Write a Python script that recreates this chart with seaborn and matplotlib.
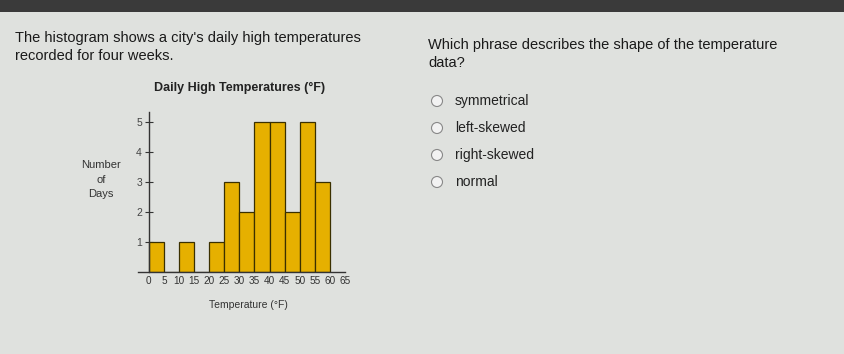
import matplotlib
matplotlib.use("Agg")
import matplotlib.pyplot as plt
import seaborn as sns
import numpy as np
from matplotlib.patches import Ellipse, Rectangle

sns.set_theme(style="white")
plt.rcParams['font.family'] = ['Liberation Sans', 'DejaVu Sans']

# Data
bin_edges = [0, 5, 10, 15, 20, 25, 30, 35, 40, 45, 50, 55, 60]
counts = [1, 0, 1, 0, 1, 3, 2, 5, 5, 2, 5, 3]
x_tick_labels = [0, 5, 10, 15, 20, 25, 30, 35, 40, 45, 50, 55, 60, 65]
y_tick_labels = [1, 2, 3, 4, 5]
options = ["symmetrical", "left-skewed", "right-skewed", "normal"]

bg = "#dfe1de"
W, H = 844, 354
fig = plt.figure(figsize=(W / 100, H / 100), dpi=100, facecolor=bg)

# top dark bar
fig.patches.append(Rectangle((0, 1 - 12 / H), 1, 12 / H, transform=fig.transFigure,
                             facecolor="#3a3a3a", edgecolor="none"))

def fx(px):
    return px / W

def fy(py):
    return 1 - py / H

ax = fig.add_axes([fx(138), fy(272), 207 / W, 160 / H])
ax.set_facecolor(bg)
centers = [(a + b) / 2 for a, b in zip(bin_edges[:-1], bin_edges[1:])]
sns.histplot(x=centers, weights=counts, bins=bin_edges, ax=ax,
             color="#e6b000", edgecolor="#3a3000", linewidth=0.9, alpha=1)
ax.set_xlim(-3.6, 65)
ax.set_ylim(0, 5.33)
for s in ["top", "right"]:
    ax.spines[s].set_visible(False)
ax.spines["left"].set_position(("data", 0))
ax.spines["left"].set_color("#333333")
ax.spines["bottom"].set_color("#333333")
ax.spines["left"].set_linewidth(1.0)
ax.spines["bottom"].set_linewidth(1.0)
ax.set_xticks(x_tick_labels)
ax.set_xticklabels([str(v) for v in x_tick_labels], fontsize=7.2, color="#333333")
ax.set_yticks(y_tick_labels)
ax.set_yticklabels([str(v) for v in y_tick_labels], fontsize=7.5, color="#444444")
ax.tick_params(axis="x", length=0, pad=3)
ax.tick_params(axis="y", direction="inout", length=6, width=0.8, color="#333333", pad=2, left=True)
ax.set_xlabel("")
ax.set_ylabel("")

fig.text(fx(240), fy(88), "Daily High Temperatures (°F)", fontsize=9, fontweight="bold",
         ha="center", va="center", color="#222222")
for txt, yy in [("Number", 165), ("of", 180), ("Days", 194)]:
    fig.text(fx(101), fy(yy), txt, fontsize=8, ha="center", va="center", color="#333333")
fig.text(fx(248), fy(305), "Temperature (°F)", fontsize=7.5, ha="center", va="center",
         color="#333333")

fig.text(fx(15), fy(38), "The histogram shows a city's daily high temperatures",
         fontsize=10.5, ha="left", va="center", color="#1a1a1a")
fig.text(fx(15), fy(56), "recorded for four weeks.", fontsize=10.5, ha="left", va="center",
         color="#1a1a1a")
fig.text(fx(428), fy(45), "Which phrase describes the shape of the temperature",
         fontsize=10.5, ha="left", va="center", color="#1a1a1a")
fig.text(fx(428), fy(63), "data?", fontsize=10.5, ha="left", va="center", color="#1a1a1a")

for i, opt in enumerate(options):
    y = 101 + i * 27
    fig.patches.append(Ellipse((fx(437), fy(y)), 11 / W, 11 / H, transform=fig.transFigure,
                               facecolor="#f2f2f2", edgecolor="#888888", linewidth=0.8))
    fig.text(fx(455), fy(y), opt, fontsize=10, ha="left", va="center", color="#222222")

fig.savefig("out.png", dpi=100, facecolor=bg)
